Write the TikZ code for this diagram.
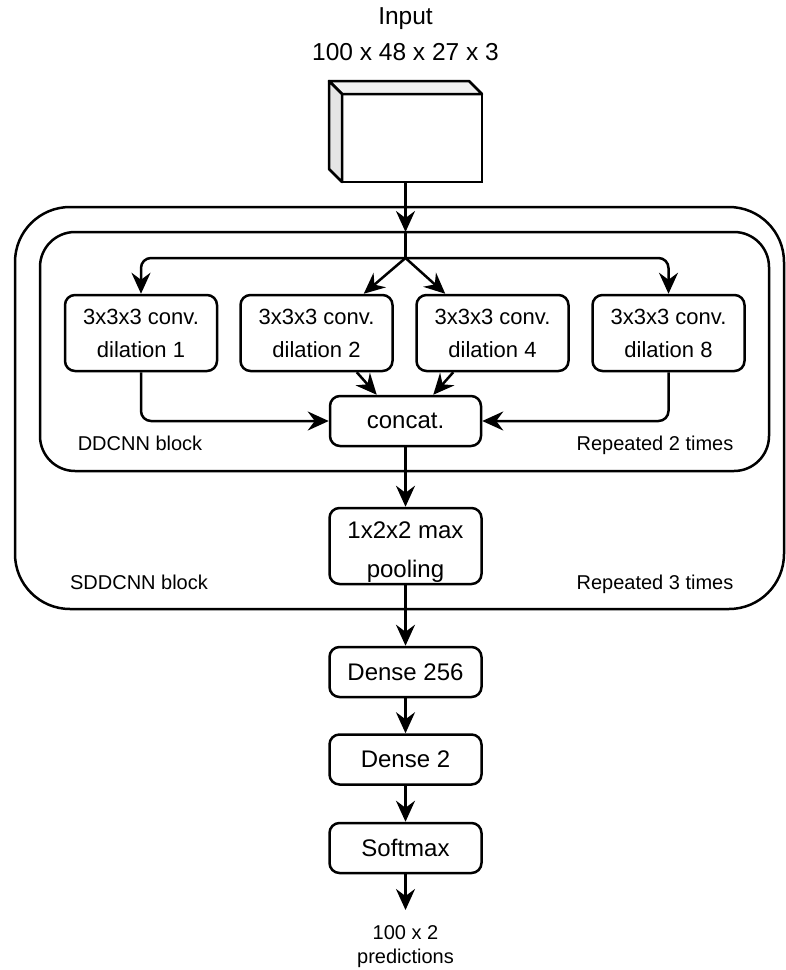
\documentclass[tikz,border=0pt]{standalone}
\usepackage{fontspec}
\setmainfont{Liberation Sans}
\usetikzlibrary{arrows.meta,calc}
\begin{document}
\begin{tikzpicture}[x=1pt,y=-1pt,
  line width=2.5pt,
  every node/.style={inner sep=0pt},
  blk/.style={draw, rounded corners=10pt, minimum width=152pt, align=center},
  conv/.style={blk, minimum height=76pt, font=\fontsize{22}{33}\selectfont},
  op/.style={blk, minimum height=50pt, font=\fontsize{24}{30}\selectfont},
  lbl/.style={font=\fontsize{20}{24}\selectfont, anchor=base},
  arr/.style={-{Stealth[length=21pt,width=19pt,inset=7pt]}},
]
\useasboundingbox (0,0) rectangle (786,970);

% input volume drawn as a cube
\node[font=\fontsize{24.5}{36}\selectfont, align=center] (title) at (405.5,34) {Input\\100 x 48 x 27 x 3};
\node[draw, fill=white, outer sep=0pt, minimum width=140pt, minimum height=88pt] (inp) at (412,138) {};
\draw[fill=gray!12, line join=round] (inp.north west) -- ++(-13,-13)
  -- ($(inp.north east)+(-13,-13)$) -- (inp.north east) -- cycle;
\draw[fill=gray!20, line join=round] (inp.north west) -- ++(-13,-13)
  -- ($(inp.south west)+(-13,-13)$) -- (inp.south west) -- cycle;

% nested blocks
\node[draw, rounded corners=55pt, outer sep=0pt, minimum width=769pt, minimum height=402pt] (sddcnn) at (399.5,408) {};
\node[draw, rounded corners=35pt, outer sep=0pt, minimum width=729pt, minimum height=239pt] (ddcnn) at (404.5,351.5) {};

% dilated convolutions
\node[conv] (b1) at (141,333) {3x3x3 conv.\\dilation 1};
\node[conv] (b2) at (316.5,333) {3x3x3 conv.\\dilation 2};
\node[conv] (b3) at (492.5,333) {3x3x3 conv.\\dilation 4};
\node[conv] (b4) at (668.5,333) {3x3x3 conv.\\dilation 8};
\node[op, minimum width=151pt] (cc) at (405.5,421) {concat.};
\node[blk, minimum height=76pt] (pool) at (405.5,546) {};
\node[font=\fontsize{24}{39}\selectfont, align=center] (pooltext) at (405.5,552) {1x2x2 max\\pooling};

% classifier head
\node[op] (d256) at (405.5,672) {Dense 256};
\node[op] (d2) at (405.5,759.5) {Dense 2};
\node[op] (sm) at (405.5,848) {Softmax};
\node[font=\fontsize{20}{24}\selectfont, align=center] (out) at (405.5,947) {100 x 2\\predictions};
\coordinate (outtip) at (405.5,910);

% block labels
\node[lbl] (l1) at (140,450.7) {DDCNN block};
\node[lbl] (l2) at (655,450.7) {Repeated 2 times};
\node[lbl] (l3) at (139,589) {SDDCNN block};
\node[lbl] (l4) at (655,589) {Repeated 3 times};

% connectors
\coordinate (entry) at ([xshift=-6.5pt]inp.south |- ddcnn.north);
\coordinate (jn) at (405.5,258);
\draw[arr] ([xshift=-6.5pt]inp.south) -- (entry);
\draw (entry) -- (jn);
\draw[arr, rounded corners=10pt] (jn) -| (b1.north);
\draw[arr, rounded corners=10pt] (jn) -| (b4.north);
\draw[arr] (jn) -- ([xshift=-30pt]b2.north east);
\draw[arr] (jn) -- ([xshift=30pt]b3.north west);
\draw[arr] ([xshift=-37pt]b2.south east) -- ([xshift=48pt]cc.north west);
\draw[arr] ([xshift=38pt]b3.south west) -- ([xshift=-49pt]cc.north east);
\draw[arr, rounded corners=10pt] (b1.south) |- (cc.west);
\draw[arr, rounded corners=10pt] (b4.south) |- (cc.east);
\draw[arr] (cc) -- (pool);
\draw[arr] (pool) -- (d256);
\draw[arr] (d256) -- (d2);
\draw[arr] (d2) -- (sm);
\draw[arr] (sm) -- (outtip);
\end{tikzpicture}
\end{document}
